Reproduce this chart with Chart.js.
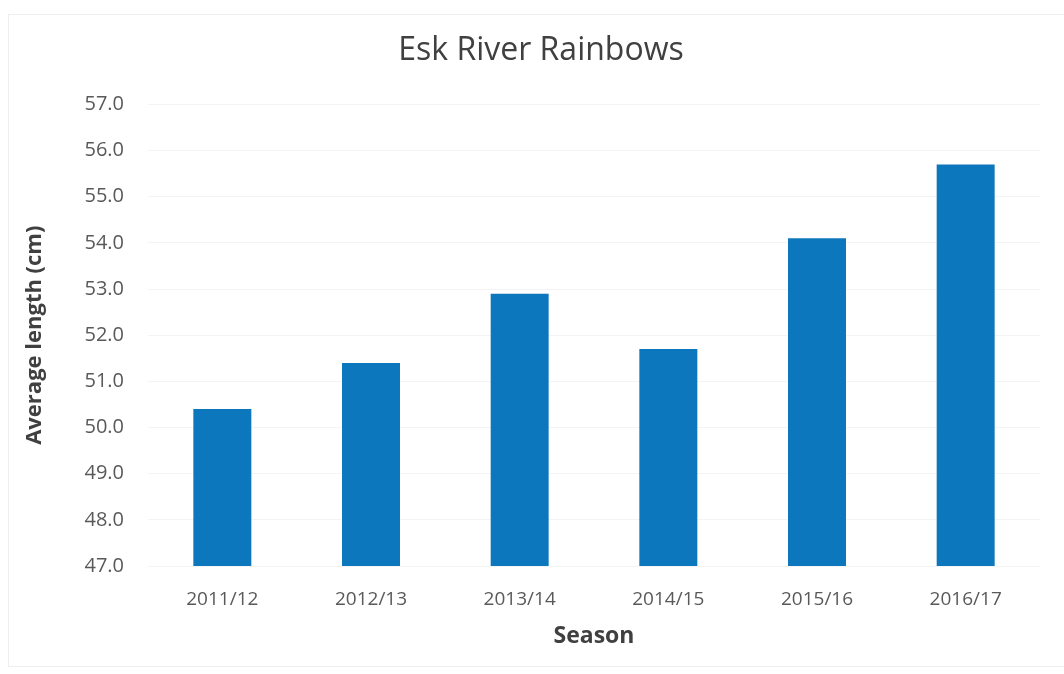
<!DOCTYPE html>
<html>
<head>
<meta charset="utf-8">
<script src="https://cdn.jsdelivr.net/npm/chart.js@4"></script>
<style>
    html, body { margin: 0; padding: 0; background: #ffffff; }
    #wrap { position: relative; width: 1064px; height: 674px; }
    #frame { position: absolute; left: 8px; top: 14px; width: 1070px; height: 653px; border: 1px solid #eeeeee; box-sizing: border-box; }
    canvas { position: absolute; left: 0; top: 0; }
</style>
</head>
<body>
<div id="wrap">
    <div id="frame"></div>
    <canvas id="chart" width="1064" height="674"></canvas>
</div>
<script>
const seasons = ['2011/12', '2012/13', '2013/14', '2014/15', '2015/16', '2016/17'];
const avgLength = [50.4, 51.4, 52.9, 51.7, 54.1, 55.7];
const yMin = 47;
const yMax = 57;

const fontFamily = "'Open Sans', 'Noto Sans', sans-serif";
const textColor = '#595959';

new Chart(document.getElementById('chart'), {
    type: 'bar',
    data: {
        labels: seasons,
        datasets: [{
            label: 'Average length (cm)',
            data: avgLength,
            backgroundColor: '#0d77bd',
            barPercentage: 0.39,
            categoryPercentage: 1.0
        }]
    },
    options: {
        responsive: false,
        animation: false,
        devicePixelRatio: 1,
        layout: {
            // extra left padding keeps the title centred where the original has it
            padding: { left: 42, right: 24, top: 0, bottom: 24 }
        },
        plugins: {
            legend: { display: false },
            tooltip: { enabled: false },
            title: {
                display: true,
                text: 'Esk River Rainbows',
                color: '#404040',
                font: { family: fontFamily, size: 32, weight: 'normal' },
                padding: { top: 32, bottom: 34 }
            }
        },
        scales: {
            x: {
                grid: { display: false },
                border: { display: false },
                ticks: {
                    color: textColor,
                    font: { family: fontFamily, size: 19 },
                    padding: 14
                },
                title: {
                    display: true,
                    text: 'Season',
                    color: '#404040',
                    font: { family: fontFamily, size: 23, weight: 'bold' },
                    padding: { top: 8, bottom: 0 }
                },
                afterFit: function (scale) {
                    scale.height = 84;
                }
            },
            y: {
                min: yMin,
                max: yMax,
                grid: { color: '#f4f4f4', lineWidth: 1, drawTicks: false },
                border: { display: false },
                ticks: {
                    stepSize: 1,
                    color: textColor,
                    font: { family: fontFamily, size: 20 },
                    padding: 24,
                    callback: function (value) {
                        return Number(value).toFixed(1);
                    }
                },
                title: {
                    display: true,
                    text: 'Average length (cm)',
                    color: '#404040',
                    font: { family: fontFamily, size: 22, weight: 'bold' },
                    padding: { top: -20, bottom: 10 }
                },
                afterFit: function (scale) {
                    scale.width = 106;
                }
            }
        }
    }
});
</script>
</body>
</html>
